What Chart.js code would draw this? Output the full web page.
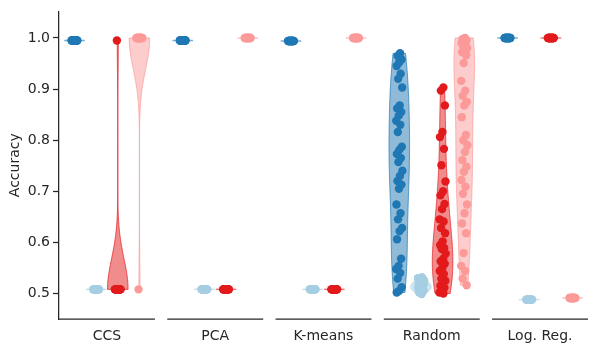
<!DOCTYPE html>
<html>
<head>
<meta charset="utf-8">
<script src="https://cdn.jsdelivr.net/npm/chart.js@4.4.1/dist/chart.umd.min.js"></script>
<style>
  html, body { margin: 0; padding: 0; background: #fff; }
  canvas { display: block; }
</style>
</head>
<body>
<canvas id="accChart" width="598" height="355"></canvas>
<script>
const methods = ['CCS', 'PCA', 'K-means', 'Random', 'Log. Reg.'];
const yTicks = [0.5, 0.6, 0.7, 0.8, 0.9, 1.0];

// accuracies per method, one array per hue (dark blue, light blue, red, light red)
const ccsDarkBlue = [0.995, 0.995, 0.995, 0.995, 0.995, 0.995, 0.995, 0.995, 0.995, 0.995, 0.995, 0.995, 0.995, 0.995, 0.995, 0.995, 0.995, 0.995, 0.995, 0.995];
const ccsLightBlue = [0.508, 0.508, 0.508, 0.508, 0.508, 0.508, 0.508, 0.508, 0.508, 0.508, 0.508, 0.508, 0.508, 0.508, 0.508, 0.508, 0.508, 0.508, 0.508, 0.508];
const ccsRed = [0.508, 0.508, 0.508, 0.508, 0.508, 0.508, 0.508, 0.508, 0.508, 0.508, 0.508, 0.508, 0.508, 0.508, 0.508, 0.508, 0.508, 0.508, 0.508, 0.995];
const ccsLightRed = [1.0, 1.0, 1.0, 1.0, 1.0, 1.0, 1.0, 1.0, 1.0, 1.0, 1.0, 1.0, 1.0, 1.0, 1.0, 1.0, 1.0, 1.0, 1.0, 0.508];

const pcaDarkBlue = [0.995, 0.995, 0.995, 0.995, 0.995, 0.995, 0.995, 0.995, 0.995, 0.995, 0.995, 0.995, 0.995, 0.995, 0.995, 0.995, 0.995, 0.995, 0.995, 0.995];
const pcaLightBlue = [0.508, 0.508, 0.508, 0.508, 0.508, 0.508, 0.508, 0.508, 0.508, 0.508, 0.508, 0.508, 0.508, 0.508, 0.508, 0.508, 0.508, 0.508, 0.508, 0.508];
const pcaRed = [0.508, 0.508, 0.508, 0.508, 0.508, 0.508, 0.508, 0.508, 0.508, 0.508, 0.508, 0.508, 0.508, 0.508, 0.508, 0.508, 0.508, 0.508, 0.508, 0.508];
const pcaLightRed = [1.0, 1.0, 1.0, 1.0, 1.0, 1.0, 1.0, 1.0, 1.0, 1.0, 1.0, 1.0, 1.0, 1.0, 1.0, 1.0, 1.0, 1.0, 1.0, 1.0];

const kmDarkBlue = [0.994, 0.994, 0.994, 0.994, 0.994, 0.994, 0.994, 0.994, 0.994, 0.994, 0.994, 0.994, 0.994, 0.994, 0.994, 0.994, 0.994, 0.994, 0.994, 0.994];
const kmLightBlue = [0.508, 0.508, 0.508, 0.508, 0.508, 0.508, 0.508, 0.508, 0.508, 0.508, 0.508, 0.508, 0.508, 0.508, 0.508, 0.508, 0.508, 0.508, 0.508, 0.508];
const kmRed = [0.508, 0.508, 0.508, 0.508, 0.508, 0.508, 0.508, 0.508, 0.508, 0.508, 0.508, 0.508, 0.508, 0.508, 0.508, 0.508, 0.508, 0.508, 0.508, 0.508];
const kmLightRed = [1.0, 1.0, 1.0, 1.0, 1.0, 1.0, 1.0, 1.0, 1.0, 1.0, 1.0, 1.0, 1.0, 1.0, 1.0, 1.0, 1.0, 1.0, 1.0, 1.0];

const randDarkBlue = [0.970, 0.965, 0.958, 0.952, 0.945, 0.930, 0.920, 0.903, 0.868, 0.862, 0.855, 0.848, 0.838, 0.830, 0.816, 0.787, 0.781, 0.773, 0.765, 0.757, 0.740, 0.730, 0.720, 0.713, 0.705, 0.674, 0.657, 0.645, 0.628, 0.622, 0.606, 0.568, 0.554, 0.548, 0.540, 0.529, 0.512, 0.505, 0.502];
const randLightBlue = [0.500, 0.502, 0.505, 0.508, 0.510, 0.512, 0.515, 0.518, 0.520, 0.522, 0.525, 0.528, 0.530, 0.532, 0.503, 0.507, 0.511, 0.514, 0.517, 0.521, 0.526, 0.499, 0.513, 0.516, 0.509];
const randRed = [0.903, 0.897, 0.868, 0.816, 0.806, 0.783, 0.751, 0.719, 0.700, 0.692, 0.675, 0.665, 0.645, 0.641, 0.628, 0.618, 0.602, 0.595, 0.589, 0.587, 0.578, 0.568, 0.563, 0.558, 0.550, 0.544, 0.538, 0.529, 0.525, 0.521, 0.515, 0.511, 0.506, 0.502, 0.500];
const randLightRed = [1.000, 0.998, 0.996, 0.993, 0.990, 0.987, 0.984, 0.980, 0.976, 0.972, 0.966, 0.951, 0.916, 0.897, 0.887, 0.875, 0.868, 0.845, 0.810, 0.800, 0.790, 0.777, 0.761, 0.748, 0.738, 0.722, 0.709, 0.695, 0.674, 0.657, 0.637, 0.618, 0.579, 0.554, 0.544, 0.529, 0.516];

const lrDarkBlue = [1.0, 1.0, 1.0, 1.0, 1.0, 1.0, 1.0, 1.0, 1.0, 1.0, 1.0, 1.0, 1.0, 1.0, 1.0, 1.0, 1.0, 1.0, 1.0, 1.0];
const lrLightBlue = [0.488, 0.488, 0.488, 0.488, 0.488, 0.488, 0.488, 0.488, 0.488, 0.488, 0.488, 0.488, 0.488, 0.488, 0.488, 0.488, 0.488, 0.488, 0.488, 0.488];
const lrRed = [1.0, 1.0, 1.0, 1.0, 1.0, 1.0, 1.0, 1.0, 1.0, 1.0, 1.0, 1.0, 1.0, 1.0, 1.0, 1.0, 1.0, 1.0, 1.0, 1.0];
const lrLightRed = [0.491, 0.491, 0.491, 0.491, 0.491, 0.491, 0.491, 0.491, 0.491, 0.491, 0.491, 0.491, 0.491, 0.491, 0.491, 0.491, 0.491, 0.491, 0.491, 0.491];

const hues = [
  { color: [31, 120, 180], groups: [ccsDarkBlue, pcaDarkBlue, kmDarkBlue, randDarkBlue, lrDarkBlue] },
  { color: [166, 206, 227], groups: [ccsLightBlue, pcaLightBlue, kmLightBlue, randLightBlue, lrLightBlue] },
  { color: [227, 26, 28], groups: [ccsRed, pcaRed, kmRed, randRed, lrRed] },
  { color: [251, 154, 153], groups: [ccsLightRed, pcaLightRed, kmLightRed, randLightRed, lrLightRed] },
];

const hueOffsets = [-0.3, -0.1, 0.1, 0.3];
const halfWidth = 0.095;
const jitterWidth = 0.03;
const axisColor = '#262626';
const font = { family: 'DejaVu Sans', size: 14 };

const rgba = (c, a) => `rgba(${c[0]},${c[1]},${c[2]},${a})`;
const jitter = k => (((k + 1) * 0.618034) % 1 - 0.5) * 2 * jitterWidth;

// gaussian kde bandwidth, scott's rule like scipy
function scottBw(vals) {
  const n = vals.length;
  const mean = vals.reduce((a, b) => a + b, 0) / n;
  const sd = Math.sqrt(vals.reduce((a, v) => a + (v - mean) ** 2, 0) / (n - 1));
  return sd * Math.pow(n, -0.2);
}

const violinPlugin = {
  id: 'violins',
  beforeDatasetsDraw(chart) {
    const { ctx, scales: { x, y } } = chart;
    hues.forEach((hue, h) => {
      hue.groups.forEach((vals, m) => {
        const cx = m + hueOffsets[h];
        const lo = Math.min(...vals), hi = Math.max(...vals);
        ctx.save();
        if (hi - lo < 1e-9) {
          ctx.strokeStyle = rgba(hue.color, 0.6);
          ctx.lineWidth = 1.5;
          ctx.beginPath();
          ctx.moveTo(x.getPixelForValue(cx - halfWidth), y.getPixelForValue(lo));
          ctx.lineTo(x.getPixelForValue(cx + halfWidth), y.getPixelForValue(lo));
          ctx.stroke();
        } else {
          const bw = scottBw(vals);
          const steps = 150;
          const dens = [];
          let peak = 0;
          for (let i = 0; i <= steps; i++) {
            const v = lo + (hi - lo) * i / steps;
            let d = 0;
            vals.forEach(p => { const z = (v - p) / bw; d += Math.exp(-0.5 * z * z); });
            dens.push([v, d]);
            peak = Math.max(peak, d);
          }
          ctx.beginPath();
          dens.forEach(([v, d], i) => {
            const px = x.getPixelForValue(cx - halfWidth * d / peak);
            const py = y.getPixelForValue(v);
            i === 0 ? ctx.moveTo(px, py) : ctx.lineTo(px, py);
          });
          for (let i = dens.length - 1; i >= 0; i--) {
            const [v, d] = dens[i];
            ctx.lineTo(x.getPixelForValue(cx + halfWidth * d / peak), y.getPixelForValue(v));
          }
          ctx.closePath();
          ctx.fillStyle = rgba(hue.color, 0.5);
          ctx.fill();
          ctx.strokeStyle = rgba(hue.color, 0.7);
          ctx.lineWidth = 1;
          ctx.stroke();
        }
        ctx.restore();
      });
    });
  }
};

// separate bottom spine under each method
const segmentAxisPlugin = {
  id: 'segmentAxis',
  afterDraw(chart) {
    const { ctx, chartArea, scales: { x } } = chart;
    ctx.save();
    ctx.strokeStyle = axisColor;
    ctx.lineWidth = 1.25;
    methods.forEach((_, i) => {
      ctx.beginPath();
      ctx.moveTo(x.getPixelForValue(i - 0.443), chartArea.bottom);
      ctx.lineTo(x.getPixelForValue(i + 0.443), chartArea.bottom);
      ctx.stroke();
    });
    ctx.restore();
  }
};

new Chart(document.getElementById('accChart'), {
  type: 'scatter',
  data: {
    datasets: hues.map((hue, h) => ({
      data: hue.groups.flatMap((vals, m) => vals.map((v, k) => ({ x: m + hueOffsets[h] + jitter(k), y: v }))),
      backgroundColor: rgba(hue.color, 1),
      borderWidth: 0,
      pointRadius: 4.2,
    }))
  },
  options: {
    responsive: false,
    animation: false,
    layout: { padding: { top: 8, right: 10, left: 0, bottom: 0 } },
    plugins: { legend: { display: false }, tooltip: { enabled: false } },
    scales: {
      x: {
        type: 'linear',
        min: -0.443,
        max: 4.443,
        afterBuildTicks: s => { s.ticks = methods.map((_, i) => ({ value: i })); },
        afterFit: s => { s.height = 36; },
        grid: { display: false, drawTicks: false },
        border: { display: false },
        ticks: { color: axisColor, font, padding: 9, autoSkip: false, maxRotation: 0, callback: (v, i) => methods[i] }
      },
      y: {
        min: 0.45,
        max: 1.052,
        afterBuildTicks: s => { s.ticks = yTicks.map(v => ({ value: v })); },
        afterFit: s => { s.width = 59; },
        grid: { display: true, drawOnChartArea: false, drawTicks: true, tickLength: 6, tickColor: axisColor, tickWidth: 1.25 },
        border: { display: true, color: axisColor, width: 1.25 },
        ticks: { color: axisColor, font, padding: 3, callback: v => v.toFixed(1) },
        title: { display: true, text: 'Accuracy', color: axisColor, font, padding: { top: 7, bottom: 0 } }
      }
    }
  },
  plugins: [violinPlugin, segmentAxisPlugin]
});
</script>
</body>
</html>
